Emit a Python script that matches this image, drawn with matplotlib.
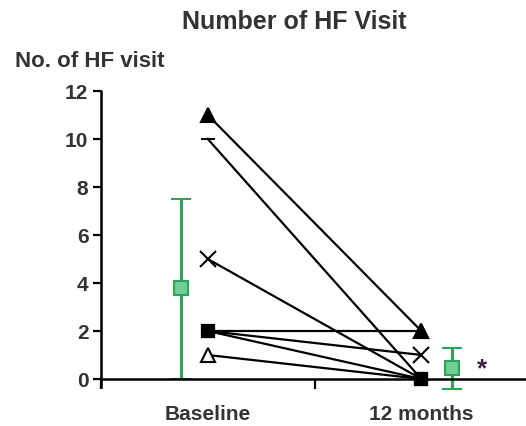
import matplotlib
matplotlib.use("Agg")
import matplotlib.pyplot as plt

plt.rcParams['font.family'] = ['Liberation Sans', 'DejaVu Sans']

# Paired values per patient: baseline -> 12 months
groups = ['Baseline', '12 months']
baseline = [11, 10, 5, 2, 2, 2, 1]
month12 = [2, 0, 0, 2, 1, 0, 0]
base_markers = ['^', '_', 'x', 's', 's', 's', '^']
m12_markers = ['^', 's', 's', '^', 'x', 's', 's']
base_filled = [True, True, True, True, True, True, False]

# group summaries (mean and SD)
means = [3.8, 0.45]
sd_upper = [3.7, 0.85]
sd_lower = [3.8, 0.85]

green = '#2aa55a'
green_fill = '#6fcf94'
msize = {'^': 10, 's': 9, 'x': 12, '_': 10}

fig = plt.figure(figsize=(5.26, 4.27), dpi=100)
ax = fig.add_axes([0.192, 0.082, 0.812, 0.7026])

xb, xm = 0, 1
for b, m, mb, mm, filled in zip(baseline, month12, base_markers, m12_markers, base_filled):
    ax.plot([xb, xm], [b, m], color='black', lw=1.6, zorder=3)
    fc = 'black' if filled else 'white'
    ax.plot(xb, b, marker=mb, ms=msize[mb], color='black',
            mfc=fc, mec='black', mew=1.5, zorder=4, ls='none')
    ax.plot(xm, m, marker=mm, ms=msize[mm], color='black',
            mfc='black', mec='black', mew=1.5, zorder=4, ls='none')

# mean +/- SD beside each group
offsets = [-0.125, 1.145]
ax.errorbar(offsets, means, yerr=[sd_lower, sd_upper], fmt='s', ms=10,
            color=green, mfc=green_fill, mec=green, mew=1.5, elinewidth=2.2,
            capsize=7, capthick=2.2, zorder=2)
ax.text(1.285, means[1], '*', color='#4a2040', fontsize=19, ha='center',
        va='center', fontweight='bold')

ax.set_xlim(-0.5, 1.5)
ax.set_ylim(-0.5, 12)
ax.set_yticks(range(0, 13, 2))
ax.set_xticks([0, 1])
ax.set_xticklabels(groups)
ax.set_xticks([-0.5, 0.5, 1.5], minor=True)

for s in ['top', 'right']:
    ax.spines[s].set_visible(False)
ax.spines['bottom'].set_position(('data', 0))
ax.spines['left'].set_bounds(-0.35, 12)
for s in ['left', 'bottom']:
    ax.spines[s].set_linewidth(1.8)
    ax.spines[s].set_zorder(5)

ax.tick_params(axis='y', length=6, width=1.6, direction='out', labelsize=15,
               labelcolor='#333333', pad=3)
ax.tick_params(axis='x', which='major', length=0, labelsize=15,
               labelcolor='#333333', pad=18)
ax.tick_params(axis='x', which='minor', length=7, width=1.6, direction='out')
for lab in ax.get_xticklabels() + ax.get_yticklabels():
    lab.set_fontweight('bold')

fig.text(0.559, 0.948, 'Number of HF Visit', ha='center', va='center',
         fontsize=18, fontweight='bold', color='#333333')
fig.text(0.028, 0.855, 'No. of HF visit', ha='left', va='center',
         fontsize=16, fontweight='bold', color='#333333')

fig.savefig('out.png', dpi=100)
